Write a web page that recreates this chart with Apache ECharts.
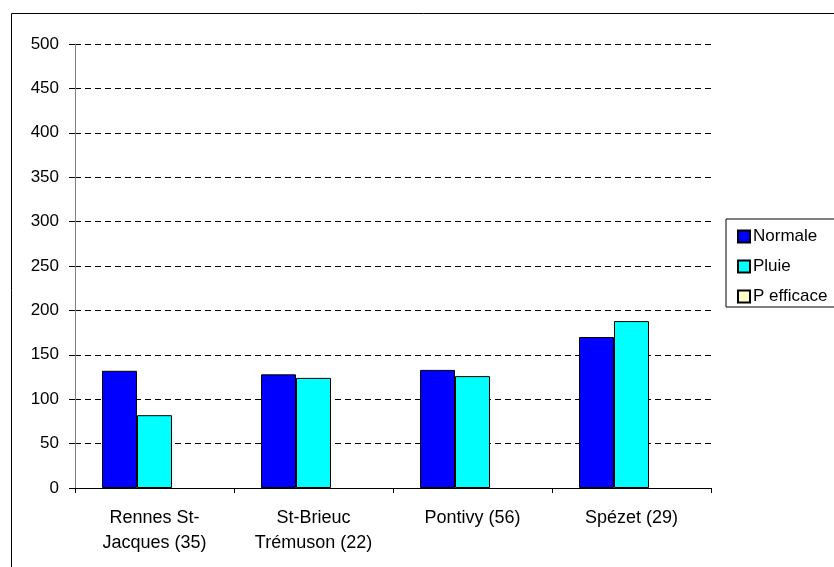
<!DOCTYPE html>
<html>
<head>
<meta charset="utf-8">
<script src="https://cdn.jsdelivr.net/npm/echarts@6/dist/echarts.min.js"></script>
<style>
  html, body { margin: 0; padding: 0; background: #fff; }
  #main { width: 834px; height: 567px; }
</style>
</head>
<body>
<div id="main"></div>
<script>
// données
const stations = ["Rennes St-\nJacques (35)", "St-Brieuc\nTrémuson (22)", "Pontivy (56)", "Spézet (29)"];
const normale = [132, 128, 133, 170];
const pluie = [82, 124, 126, 188];
const pEfficace = [null, null, null, null];

const myChart = echarts.init(document.getElementById("main"));

const font = "'Liberation Sans', Arial, sans-serif";

let options = {
  animation: false,
  textStyle: { fontFamily: font },
  graphic: [
    {
      type: "rect",
      shape: { x: 11.5, y: 13.5, width: 1000, height: 1000 },
      style: { fill: null, stroke: "#000", lineWidth: 1 },
      silent: true,
    },
  ],
  grid: { left: 75, right: 123, top: 44, bottom: 79 },
  legend: {
    orient: "vertical",
    left: 726,
    top: 219,
    itemWidth: 12,
    itemHeight: 12,
    itemGap: 13,
    padding: [9, 8, 2, 11],
    borderColor: "#000",
    borderWidth: 1,
    icon: "rect",
    textStyle: { fontFamily: font, fontSize: 17, color: "#000", padding: [0, 0, 0, -2] },
    data: ["Normale", "Pluie", "P efficace"],
  },
  xAxis: {
    type: "category",
    data: stations,
    axisLine: { lineStyle: { color: "#000", width: 1 } },
    axisTick: { show: true, length: 5, lineStyle: { color: "#000" } },
    axisLabel: {
      color: "#000",
      fontSize: 18,
      fontFamily: font,
      lineHeight: 25,
      margin: 18,
      interval: 0,
    },
  },
  yAxis: {
    type: "value",
    min: 0,
    max: 500,
    interval: 50,
    axisLine: { show: true, lineStyle: { color: "#808080" } },
    axisTick: { show: true, length: 6, lineStyle: { color: "#000" } },
    axisLabel: { color: "#000", fontSize: 17, fontFamily: font, margin: 16 },
    splitLine: {
      show: true,
      lineStyle: { color: "#000", type: [6, 4], width: 1 },
    },
  },
  series: [
    {
      name: "Normale",
      type: "bar",
      data: normale,
      barGap: "0%",
      barCategoryGap: "34%",
      itemStyle: { color: "#0000FF", borderColor: "#000", borderWidth: 1 },
    },
    {
      name: "Pluie",
      type: "bar",
      data: pluie,
      itemStyle: { color: "#00FFFF", borderColor: "#000", borderWidth: 1 },
    },
    {
      name: "P efficace",
      type: "bar",
      data: pEfficace,
      itemStyle: { color: "#FFFFCC", borderColor: "#000", borderWidth: 1 },
    },
  ],
};

myChart.setOption(options);
</script>
</body>
</html>
